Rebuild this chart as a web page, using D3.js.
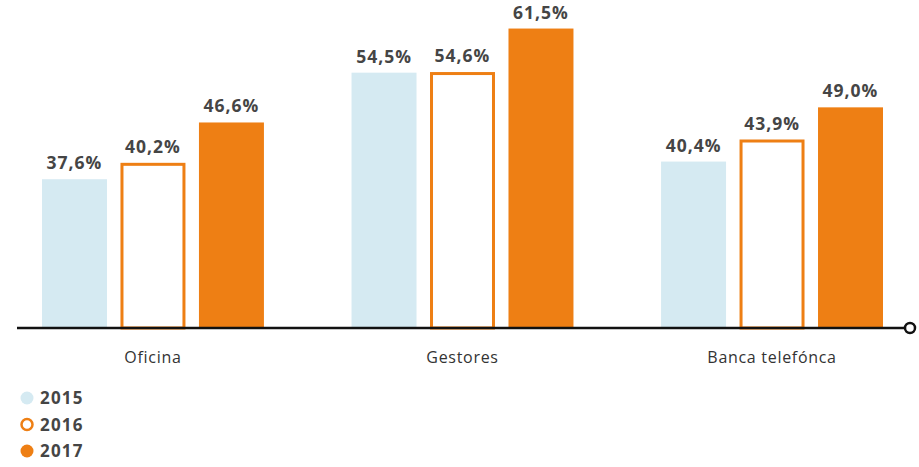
<!DOCTYPE html>
<html>
	<head>
		<meta charset="utf-8">
		<title>Canales</title>
		<style>
			body { margin: 0; background: #fff; }
			text { font-family: "Open Sans", "Noto Sans", sans-serif; }
			.value { font-weight: 700; font-size: 17.5px; fill: #454545; letter-spacing: 1px; }
			.cat { font-size: 16px; fill: #333; letter-spacing: 0.7px; }
			.leg { font-weight: 700; font-size: 17px; fill: #454545; letter-spacing: 1.2px; }
		</style>
	</head>
	<body>
		<svg class="chart"></svg>
		<script src="https://d3js.org/d3.v7.min.js"></script>
		<script>
			var categories = ["Oficina", "Gestores", "Banca telefónca"];
			var years = ["2015", "2016", "2017"];
			var v2015 = [37.6, 54.5, 40.4];
			var v2016 = [40.2, 54.6, 43.9];
			var v2017 = [46.6, 61.5, 49.0];
			var series = [v2015, v2016, v2017];

			var width = 919, height = 467, baseY = 328;
			var svg = d3.select(".chart").attr("width", width).attr("height", height);

			var x0 = d3.scaleBand().domain(categories).range([42, 883]).paddingInner(0.283);
			var x1 = d3.scaleBand().domain(years).range([0, x0.bandwidth()]).paddingInner(0.172);
			var y = d3.scaleLinear().domain([14, 60]).range([baseY, 38]);

			var fmt = function(v) { return d3.format(".1f")(v).replace(".", ",") + "%"; };

			var rows = [];
			categories.forEach(function(c, i) {
				years.forEach(function(yr, j) {
					rows.push({cat: c, year: yr, value: series[j][i]});
				});
			});

			// bars
			var g = svg.append("g");
			g.selectAll("rect.bar")
				.data(rows)
				.enter()
				.append("rect")
					.attr("class", "bar")
					.attr("x", function(d) { var sx = x0(d.cat) + x1(d.year); return d.year === "2016" ? sx + 1.5 : sx; })
					.attr("y", function(d) { return d.year === "2016" ? y(d.value) + 1.5 : y(d.value); })
					.attr("width", function(d) { return d.year === "2016" ? x1.bandwidth() - 3 : x1.bandwidth(); })
					.attr("height", function(d) { return d.year === "2016" ? baseY - y(d.value) - 1.5 : baseY - y(d.value); })
					.attr("fill", function(d) { return d.year === "2015" ? "#d5eaf2" : d.year === "2016" ? "#fff" : "#ee7f14"; })
					.attr("stroke", function(d) { return d.year === "2016" ? "#ee7f14" : "none"; })
					.attr("stroke-width", 3);

			// value labels
			g.selectAll("text.value")
				.data(rows)
				.enter()
				.append("text")
					.attr("class", "value")
					.attr("text-anchor", "middle")
					.attr("x", function(d) { return x0(d.cat) + x1(d.year) + x1.bandwidth() / 2; })
					.attr("y", function(d) { return y(d.value) - 10; })
					.text(function(d) { return fmt(d.value); });

			// baseline with end circle
			svg.append("line")
				.attr("x1", 17).attr("x2", 904)
				.attr("y1", baseY).attr("y2", baseY)
				.attr("stroke", "#111").attr("stroke-width", 2.5);
			svg.append("circle")
				.attr("cx", 910).attr("cy", baseY).attr("r", 5)
				.attr("fill", "#fff").attr("stroke", "#111").attr("stroke-width", 2.5);

			// category labels
			svg.selectAll("text.cat")
				.data(categories)
				.enter()
				.append("text")
					.attr("class", "cat")
					.attr("text-anchor", "middle")
					.attr("x", function(d) { return x0(d) + x0.bandwidth() / 2; })
					.attr("y", 363)
					.text(function(d) { return d; });

			// legend
			var leg = svg.append("g").selectAll("g")
				.data(years)
				.enter()
				.append("g")
					.attr("transform", function(d, i) { return "translate(27," + (398 + i * 26.5) + ")"; });
			leg.append("circle")
				.attr("r", function(d) { return d === "2016" ? 5.5 : 6.5; })
				.attr("fill", function(d) { return d === "2015" ? "#d5eaf2" : d === "2016" ? "#fff" : "#ee7f14"; })
				.attr("stroke", function(d) { return d === "2016" ? "#ee7f14" : "none"; })
				.attr("stroke-width", 2.5);
			leg.append("text")
				.attr("class", "leg")
				.attr("x", 13)
				.attr("y", 6)
				.text(function(d) { return d; });
		</script>
	</body>
</html>
